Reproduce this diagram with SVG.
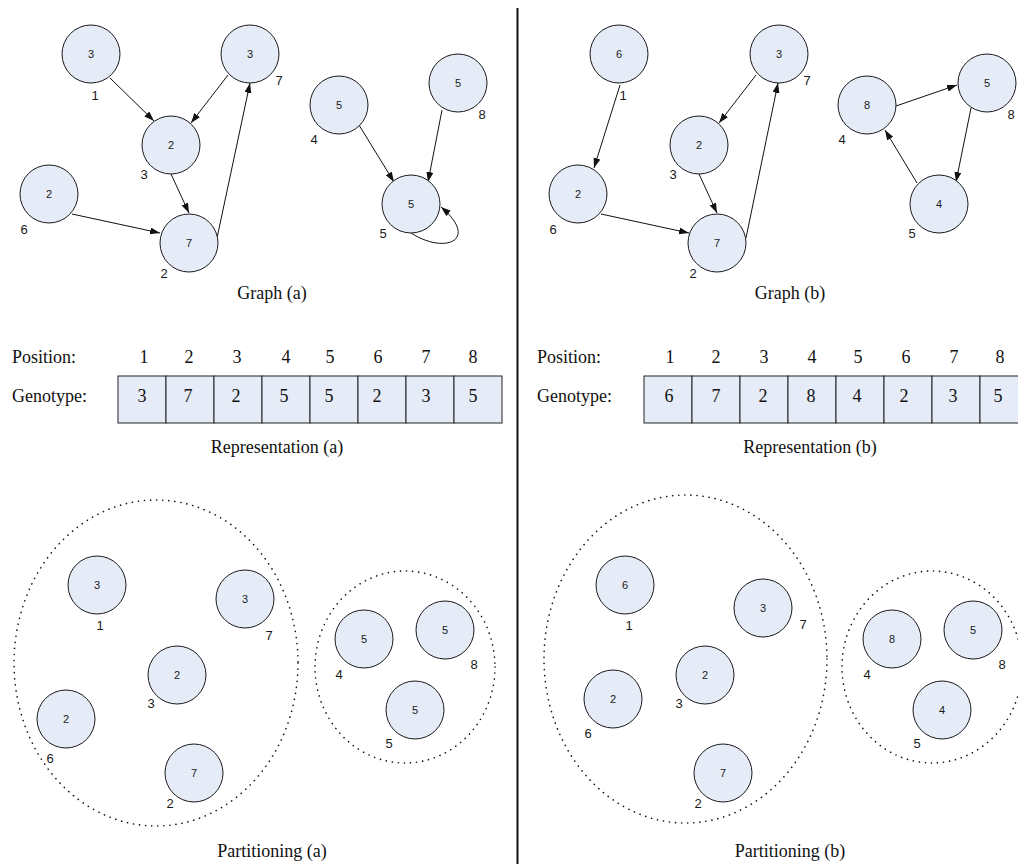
<svg xmlns="http://www.w3.org/2000/svg" width="1018" height="864" viewBox="0 0 1018 864">
<style>
.nd circle{fill:#e5ebf7;stroke:#1a1a1a;stroke-width:1}
.nd text.v{font-family:"Liberation Sans",Arial,sans-serif;font-size:11px;fill:#1a1a1a;text-anchor:middle}
.nd text.l{font-family:"Liberation Sans",Arial,sans-serif;font-size:13px;fill:#1a1a1a;text-anchor:middle}
.cap{font-family:"Liberation Serif","Times New Roman",serif;font-size:18px;fill:#111;text-anchor:middle}
.rl{font-family:"Liberation Serif","Times New Roman",serif;font-size:18px;fill:#111}
.rn{font-family:"Liberation Serif","Times New Roman",serif;font-size:18px;fill:#111;text-anchor:middle}
.cell{fill:#e5ebf7;stroke:#222;stroke-width:1}
.e{fill:none;stroke:#111;stroke-width:1;marker-end:url(#ah)}
.grp{fill:none;stroke:#111;stroke-width:1.6;stroke-dasharray:0.1 6;stroke-linecap:round}
</style>
<defs>
<marker id="ah" markerUnits="userSpaceOnUse" markerWidth="11" markerHeight="8" refX="10" refY="3.5" orient="auto">
<path d="M0,0 L10,3.5 L0,7 z" fill="#111"/>
</marker>
</defs>

<rect x="0" y="0" width="1018" height="864" fill="#fff"/>
<line x1="517.5" y1="8" x2="517.5" y2="864" stroke="#111" stroke-width="2"/>

<!-- Graph (a) -->
<g id="connectors-a">
<line class="e" x1="110" y1="78" x2="154" y2="121"/>
<line class="e" x1="228" y1="75" x2="191" y2="123"/>
<line class="e" x1="171" y1="174" x2="189" y2="213"/>
<line class="e" x1="72" y1="214" x2="160" y2="233"/>
<line class="e" x1="217" y1="238" x2="250" y2="83"/>
<line class="e" x1="359" y1="125" x2="394" y2="182"/>
<line class="e" x1="442" y1="110" x2="428" y2="182"/>
<path class="e" d="M411,233 C445,255 480,240 441,207"/>
</g>
<g id="ga-n1" class="nd"><circle cx="91" cy="54" r="29"/><text class="v" x="91" y="58">3</text><text class="l" x="95" y="100">1</text></g>
<g id="ga-n7" class="nd"><circle cx="250" cy="54" r="29"/><text class="v" x="250" y="58">3</text><text class="l" x="279" y="85">7</text></g>
<g id="ga-n3" class="nd"><circle cx="171" cy="145" r="29"/><text class="v" x="171" y="149">2</text><text class="l" x="144" y="179">3</text></g>
<g id="ga-n6" class="nd"><circle cx="49" cy="194" r="29"/><text class="v" x="49" y="198">2</text><text class="l" x="24" y="234">6</text></g>
<g id="ga-n2" class="nd"><circle cx="189" cy="243" r="29"/><text class="v" x="189" y="247">7</text><text class="l" x="164" y="278">2</text></g>
<g id="ga-n4" class="nd"><circle cx="339" cy="105" r="29"/><text class="v" x="339" y="109">5</text><text class="l" x="314" y="144">4</text></g>
<g id="ga-n8" class="nd"><circle cx="458" cy="83" r="29"/><text class="v" x="458" y="87">5</text><text class="l" x="482" y="119">8</text></g>
<g id="ga-n5" class="nd"><circle cx="411" cy="204" r="29"/><text class="v" x="411" y="208">5</text><text class="l" x="383" y="238">5</text></g>
<text class="cap" x="272" y="299">Graph (a)</text>

<!-- Graph (b) -->
<g id="connectors-b">
<line class="e" x1="620" y1="85" x2="594" y2="168"/>
<line class="e" x1="756" y1="75" x2="719" y2="123"/>
<line class="e" x1="699" y1="174" x2="717" y2="213"/>
<line class="e" x1="601" y1="214" x2="689" y2="233"/>
<line class="e" x1="746" y1="238" x2="778" y2="83"/>
<line class="e" x1="896" y1="106" x2="957" y2="85"/>
<line class="e" x1="971" y1="108" x2="956" y2="182"/>
<line class="e" x1="917" y1="183" x2="885" y2="130"/>
</g>
<g id="gb-n1" class="nd"><circle cx="619" cy="54" r="29"/><text class="v" x="619" y="58">6</text><text class="l" x="623" y="100">1</text></g>
<g id="gb-n7" class="nd"><circle cx="779" cy="54" r="29"/><text class="v" x="779" y="58">3</text><text class="l" x="807" y="85">7</text></g>
<g id="gb-n3" class="nd"><circle cx="699" cy="145" r="29"/><text class="v" x="699" y="149">2</text><text class="l" x="673" y="179">3</text></g>
<g id="gb-n6" class="nd"><circle cx="578" cy="194" r="29"/><text class="v" x="578" y="198">2</text><text class="l" x="553" y="234">6</text></g>
<g id="gb-n2" class="nd"><circle cx="717" cy="243" r="29"/><text class="v" x="717" y="247">7</text><text class="l" x="693" y="278">2</text></g>
<g id="gb-n4" class="nd"><circle cx="867" cy="105" r="29"/><text class="v" x="867" y="109">8</text><text class="l" x="842" y="144">4</text></g>
<g id="gb-n8" class="nd"><circle cx="987" cy="83" r="29"/><text class="v" x="987" y="87">5</text><text class="l" x="1011" y="119">8</text></g>
<g id="gb-n5" class="nd"><circle cx="939" cy="204" r="29"/><text class="v" x="939" y="208">4</text><text class="l" x="912" y="238">5</text></g>
<text class="cap" x="790" y="299">Graph (b)</text>

<!-- Representation (a) -->
<g id="rep-a">
<text class="rl" x="12" y="363">Position:</text>
<text class="rl" x="12" y="402">Genotype:</text>
<g class="rn">
<text x="144" y="363">1</text><text x="189" y="363">2</text><text x="237" y="363">3</text><text x="286" y="363">4</text>
<text x="330" y="363">5</text><text x="378" y="363">6</text><text x="426" y="363">7</text><text x="473" y="363">8</text>
</g>
<rect class="cell" x="118" y="376" width="48" height="47"/>
<rect class="cell" x="166" y="376" width="48" height="47"/>
<rect class="cell" x="214" y="376" width="48" height="47"/>
<rect class="cell" x="262" y="376" width="48" height="47"/>
<rect class="cell" x="310" y="376" width="48" height="47"/>
<rect class="cell" x="358" y="376" width="48" height="47"/>
<rect class="cell" x="406" y="376" width="48" height="47"/>
<rect class="cell" x="454" y="376" width="48" height="47"/>
<g class="rn">
<text x="142" y="402">3</text><text x="188" y="402">7</text><text x="236" y="402">2</text><text x="284" y="402">5</text>
<text x="329" y="402">5</text><text x="377" y="402">2</text><text x="426" y="402">3</text><text x="473" y="402">5</text>
</g>
<text class="cap" x="277" y="453">Representation (a)</text>
</g>

<!-- Representation (b) -->
<g id="rep-b">
<text class="rl" x="537" y="363">Position:</text>
<text class="rl" x="537" y="402">Genotype:</text>
<g class="rn">
<text x="670" y="363">1</text><text x="716" y="363">2</text><text x="764" y="363">3</text><text x="812" y="363">4</text>
<text x="858" y="363">5</text><text x="906" y="363">6</text><text x="954" y="363">7</text><text x="1000" y="363">8</text>
</g>
<rect class="cell" x="644" y="376" width="48" height="47"/>
<rect class="cell" x="692" y="376" width="48" height="47"/>
<rect class="cell" x="740" y="376" width="48" height="47"/>
<rect class="cell" x="788" y="376" width="48" height="47"/>
<rect class="cell" x="836" y="376" width="48" height="47"/>
<rect class="cell" x="884" y="376" width="48" height="47"/>
<rect class="cell" x="932" y="376" width="48" height="47"/>
<rect class="cell" x="980" y="376" width="48" height="47"/>
<g class="rn">
<text x="669" y="402">6</text><text x="716" y="402">7</text><text x="763" y="402">2</text><text x="811" y="402">8</text>
<text x="857" y="402">4</text><text x="904" y="402">2</text><text x="953" y="402">3</text><text x="998" y="402">5</text>
</g>
<text class="cap" x="810" y="453">Representation (b)</text>
</g>

<!-- Partitioning (a) -->
<ellipse id="pa-g1" class="grp" cx="156" cy="663" rx="142" ry="163"/>
<ellipse id="pa-g2" class="grp" cx="405" cy="667" rx="90" ry="96"/>
<g id="pa-n1" class="nd"><circle cx="97" cy="585" r="29"/><text class="v" x="97" y="589">3</text><text class="l" x="100" y="630">1</text></g>
<g id="pa-n7" class="nd"><circle cx="245" cy="599" r="29"/><text class="v" x="245" y="603">3</text><text class="l" x="269" y="640">7</text></g>
<g id="pa-n3" class="nd"><circle cx="177" cy="675" r="29"/><text class="v" x="177" y="679">2</text><text class="l" x="151" y="708">3</text></g>
<g id="pa-n6" class="nd"><circle cx="66" cy="719" r="29"/><text class="v" x="66" y="723">2</text><text class="l" x="50" y="763">6</text></g>
<g id="pa-n2" class="nd"><circle cx="194" cy="773" r="29"/><text class="v" x="194" y="777">7</text><text class="l" x="170" y="808">2</text></g>
<g id="pa-n4" class="nd"><circle cx="364" cy="639" r="29"/><text class="v" x="364" y="643">5</text><text class="l" x="339" y="679">4</text></g>
<g id="pa-n8" class="nd"><circle cx="445" cy="630" r="29"/><text class="v" x="445" y="634">5</text><text class="l" x="474" y="669">8</text></g>
<g id="pa-n5" class="nd"><circle cx="415" cy="710" r="29"/><text class="v" x="415" y="714">5</text><text class="l" x="389" y="748">5</text></g>
<text class="cap" x="272" y="857">Partitioning (a)</text>

<!-- Partitioning (b) -->
<ellipse id="pb-g1" class="grp" cx="685.5" cy="659" rx="141.5" ry="164"/>
<ellipse id="pb-g2" class="grp" cx="932" cy="667" rx="90" ry="96"/>
<g id="pb-n1" class="nd"><circle cx="625" cy="585" r="29"/><text class="v" x="625" y="589">6</text><text class="l" x="629" y="630">1</text></g>
<g id="pb-n7" class="nd"><circle cx="763" cy="608" r="29"/><text class="v" x="763" y="612">3</text><text class="l" x="803" y="629">7</text></g>
<g id="pb-n3" class="nd"><circle cx="705" cy="675" r="29"/><text class="v" x="705" y="679">2</text><text class="l" x="679" y="708">3</text></g>
<g id="pb-n6" class="nd"><circle cx="613" cy="699" r="29"/><text class="v" x="613" y="703">2</text><text class="l" x="588" y="738">6</text></g>
<g id="pb-n2" class="nd"><circle cx="723" cy="773" r="29"/><text class="v" x="723" y="777">7</text><text class="l" x="698" y="808">2</text></g>
<g id="pb-n4" class="nd"><circle cx="892" cy="639" r="29"/><text class="v" x="892" y="643">8</text><text class="l" x="867" y="679">4</text></g>
<g id="pb-n8" class="nd"><circle cx="973" cy="630" r="29"/><text class="v" x="973" y="634">5</text><text class="l" x="1002" y="669">8</text></g>
<g id="pb-n5" class="nd"><circle cx="942" cy="710" r="29"/><text class="v" x="942" y="714">4</text><text class="l" x="917" y="748">5</text></g>
<text class="cap" x="790" y="857">Partitioning (b)</text>
</svg>
